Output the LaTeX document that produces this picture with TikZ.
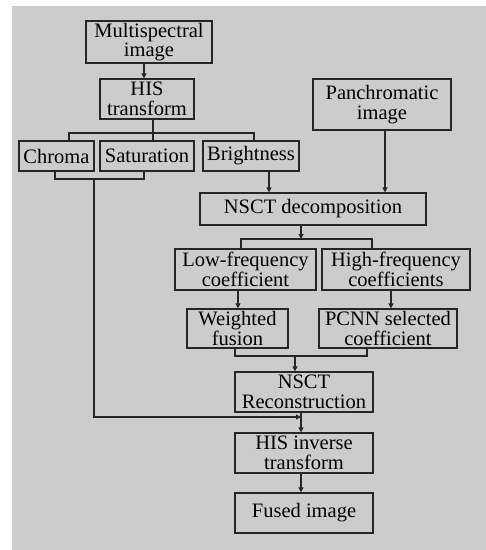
\documentclass[tikz,border=0pt]{standalone}
\usepackage{fontspec}
\setmainfont{Liberation Serif}
\newfontfamily\tnr{Liberation Serif}
\usetikzlibrary{arrows.meta}
\definecolor{bg}{HTML}{CCCCCC}
\definecolor{ln}{HTML}{262626}
\tikzset{
  box/.style={draw=ln, line width=1.3pt, inner sep=0pt, align=center,
    font=\tnr\fontsize{20.5}{19.5}\selectfont, text=black},
  wire/.style={draw=ln, line width=1.2pt},
  arr/.style={wire, -{Triangle[length=5pt,width=5pt]}},
}
\begin{document}
\begin{tikzpicture}[x=1pt,y=-1pt]
\useasboundingbox (0,0) rectangle (486,550);
\fill[white] (0,0) rectangle (486,550);
\fill[bg] (12,6) rectangle (486,550);

\node[box, minimum width=126pt, minimum height=42pt] (ms) at (149,42) {Multispectral\\image};
\node[box, minimum width=94pt, minimum height=40pt] (his) at (147,99) {HIS\\transform};
\node[box, minimum width=138pt, minimum height=51pt] (pan) at (382,104.5) {Panchromatic\\image};
\node[box, minimum width=75pt, minimum height=30pt] (chroma) at (56.5,156) {Chroma};
\node[box, minimum width=94pt, minimum height=30pt] (sat) at (147,156) {Saturation};
\node[box, minimum width=96pt, minimum height=30pt] (bri) at (251,156) {Brightness};
\node[box, minimum width=226pt, minimum height=32pt] (nsd) at (313,209) {NSCT decomposition};
\node[box, minimum width=141pt, minimum height=41pt] (low) at (245.5,269.5) {Low-frequency\\coefficient};
\node[box, minimum width=148pt, minimum height=41pt] (high) at (396,269.5) {High-frequency\\coefficients};
\node[box, minimum width=101pt, minimum height=39pt] (wf) at (237.5,328.5) {Weighted\\fusion};
\node[box, minimum width=138pt, minimum height=39pt] (pcnn) at (388,328.5) {PCNN selected\\coefficient};
\node[box, minimum width=138pt, minimum height=40pt] (rec) at (304,392) {NSCT\\Reconstruction};
\node[box, minimum width=138pt, minimum height=40pt] (inv) at (304,453) {HIS inverse\\transform};
\node[box, minimum width=138pt, minimum height=40pt] (fused) at (304,513) {Fused image};

% multispectral -> HIS
\coordinate (x1) at (144,0);
\draw[arr] (ms.south -| x1) -- (his.north -| x1);

% HIS bracket
\coordinate (hb) at (153,133);
\coordinate (t1) at (69,133);
\coordinate (t3) at (254,133);
\draw[wire] (his.south -| hb) -- (hb);
\draw[wire] (chroma.north -| t1) -- (t1) -- (t3) -- (bri.north -| t3);
\draw[wire] (hb) -- (sat.north -| hb);

% chroma/saturation bracket
\coordinate (c1) at (55,179);
\coordinate (c2) at (144,179);
\coordinate (cj) at (94,179);
\draw[wire] (chroma.south -| c1) -- (c1) -- (c2) -- (sat.south -| c2);
\coordinate (mx) at (301,417);
\draw[arr] (cj) |- (mx);

% brightness, panchromatic -> NSCT decomposition
\coordinate (bx) at (269,0);
\coordinate (px) at (385,0);
\draw[arr] (bri.south -| bx) -- (nsd.north -| bx);
\draw[arr] (pan.south -| px) -- (nsd.north -| px);

% decomposition bracket
\coordinate (dj) at (301,239);
\coordinate (d1) at (241,239);
\coordinate (d2) at (372,239);
\draw[arr] (nsd.south -| dj) -- (dj);
\draw[wire] (low.north -| d1) -- (d1) -- (d2) -- (high.north -| d2);

% low/high -> fusion
\coordinate (lx) at (238,0);
\coordinate (hx) at (391,0);
\draw[arr] (low.south -| lx) -- (wf.north -| lx);
\draw[arr] (high.south -| hx) -- (pcnn.north -| hx);

% fusion bracket
\coordinate (f1) at (235,356);
\coordinate (f2) at (367,356);
\coordinate (fj) at (295,356);
\draw[wire] (wf.south -| f1) -- (f1) -- (f2) -- (pcnn.south -| f2);
\draw[arr] (fj) -- (rec.north -| fj);

% lower chain
\coordinate (vx) at (301,0);
\draw[arr] (rec.south -| vx) -- (inv.north -| vx);
\draw[arr] (inv.south -| vx) -- (fused.north -| vx);
\end{tikzpicture}
\end{document}
